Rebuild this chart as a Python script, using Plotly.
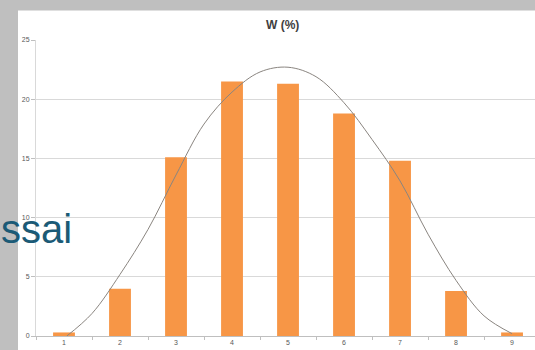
import plotly.graph_objects as go

categories = [1, 2, 3, 4, 5, 6, 7, 8, 9]
w_percent = [0.3, 4.0, 15.1, 21.5, 21.3, 18.8, 14.8, 3.8, 0.3]

curve_x = [1.05, 1.5, 2.0, 2.5, 3.0, 3.5, 4.0, 4.5, 5.0, 5.5, 6.0, 6.5, 7.0, 7.5, 8.0, 8.5, 9.0]
curve_y = [0.0, 1.9, 5.2, 9.0, 13.6, 17.9, 20.6, 22.3, 22.7, 21.9, 19.7, 16.6, 13.1, 8.6, 4.7, 1.7, 0.2]

y_ticks = [0, 5, 10, 15, 20, 25]

W, H = 535, 350
ML, MR, MT, MB = 36, 0, 39.5, 13.5
PW, PH = W - ML - MR, H - MT - MB


def px(xp):
    return (xp - ML) / PW


def py(yp):
    return (H - MB - yp) / PH


fig = go.Figure()
fig.add_trace(go.Bar(x=categories, y=w_percent, width=0.39,
                     marker=dict(color="#F79646", line=dict(width=0)),
                     showlegend=False))
fig.add_trace(go.Scatter(x=curve_x, y=curve_y, mode="lines",
                         line=dict(color="#8a8580", width=1, shape="spline", smoothing=1.0),
                         showlegend=False))

fig.update_layout(
    width=W, height=H,
    margin=dict(l=ML, r=MR, t=MT, b=MB, pad=0),
    paper_bgcolor="#bfbfbf",
    plot_bgcolor="white",
    font=dict(family="Liberation Sans, Arial, sans-serif", size=7, color="#595959"),
    xaxis=dict(range=[0.5, 9.41], tickmode="array", tickvals=categories,
               ticktext=[str(c) for c in categories], ticks="", showgrid=False,
               showline=True, linecolor="#bfbfbf", linewidth=1, zeroline=False,
               fixedrange=True,
               minor=dict(tick0=0.5, dtick=1, ticks="outside", ticklen=3,
                          tickcolor="#bfbfbf", showgrid=False)),
    yaxis=dict(range=[0, 25], tickmode="array", tickvals=y_ticks,
               ticks="outside", ticklen=4, tickcolor="#bfbfbf",
               showgrid=True, gridcolor="#d9d9d9", gridwidth=1,
               showline=True, linecolor="#d9d9d9", linewidth=1, zeroline=False,
               fixedrange=True),
    bargap=0.6,
    shapes=[dict(type="rect", xref="paper", yref="paper",
                 x0=px(18), x1=px(W + 5), y0=py(H + 5), y1=py(10),
                 fillcolor="white", line=dict(width=0), layer="below")],
    annotations=[
        dict(text="<b>W (%)</b>", xref="paper", yref="paper", x=px(282), y=py(24),
             xanchor="center", yanchor="middle", showarrow=False,
             font=dict(size=12, color="#404040", family="Liberation Sans, Arial, sans-serif")),
        dict(text="ssai", xref="paper", yref="paper", x=px(-1), y=py(229.5),
             xanchor="left", yanchor="middle", showarrow=False,
             font=dict(size=40, color="#1b5a76", family="Liberation Sans, Arial, sans-serif")),
    ],
)

fig.write_html("out.html", config={"displayModeBar": False},
               post_script="document.body.style.margin='0';document.body.style.overflow='hidden';")
